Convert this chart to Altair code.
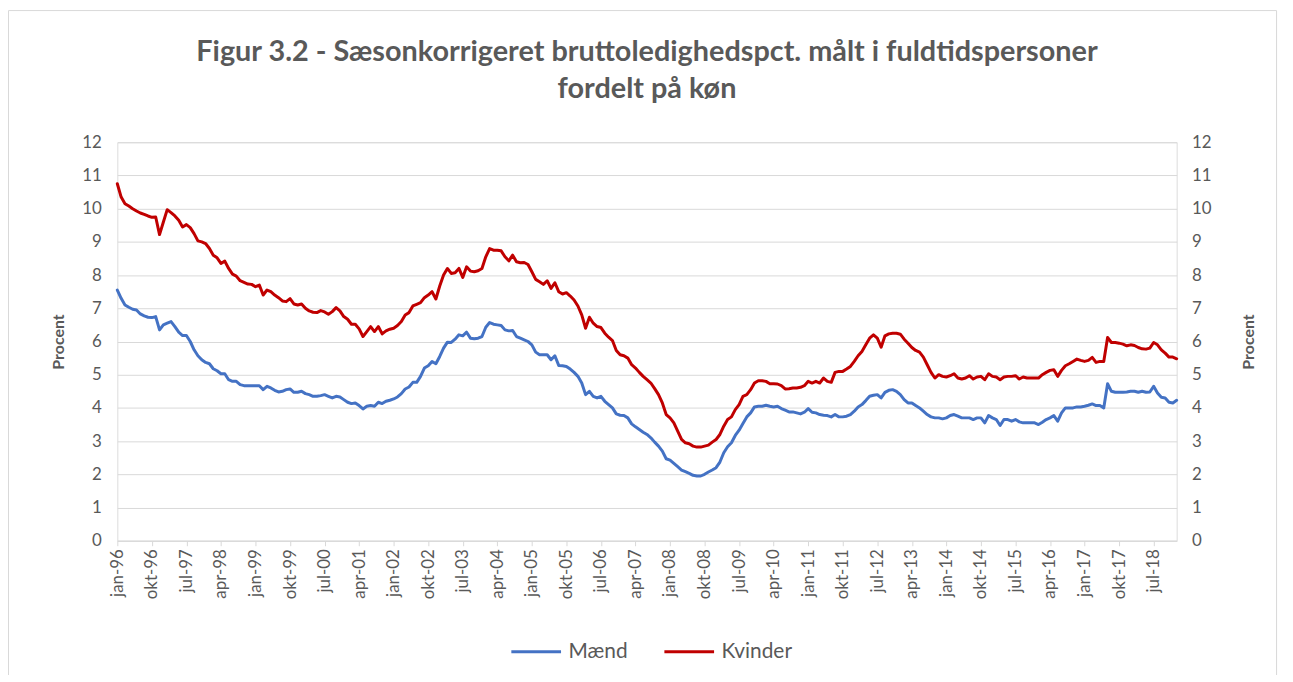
import altair as alt
import pandas as pd

MONTHS = ["jan", "feb", "mar", "apr", "maj", "jun", "jul", "aug", "sep", "okt", "nov", "dec"]
YEARS = list(range(1996, 2020))
PERIODS = [f"{m}-{str(y)[2:]}" for y in YEARS for m in MONTHS][:277]

TICK_LABELS = ["jan-96", "okt-96", "jul-97", "apr-98", "jan-99", "okt-99", "jul-00", "apr-01",
               "jan-02", "okt-02", "jul-03", "apr-04", "jan-05", "okt-05", "jul-06", "apr-07",
               "jan-08", "okt-08", "jul-09", "apr-10", "jan-11", "okt-11", "jul-12", "apr-13",
               "jan-14", "okt-14", "jul-15", "apr-16", "jan-17", "okt-17", "jul-18"]

MAEND = [
    7.55, 7.30, 7.10, 7.03, 6.97, 6.95, 6.83, 6.77, 6.73, 6.72, 6.75, 6.35,   # 1996
    6.50, 6.55, 6.60, 6.45, 6.28, 6.18, 6.18, 6.00, 5.75, 5.57, 5.45, 5.37,   # 1997
    5.33, 5.18, 5.12, 5.03, 5.03, 4.85, 4.80, 4.80, 4.70, 4.67, 4.67, 4.67,   # 1998
    4.67, 4.67, 4.55, 4.65, 4.60, 4.53, 4.48, 4.50, 4.55, 4.57, 4.47, 4.47,   # 1999
    4.50, 4.43, 4.40, 4.35, 4.35, 4.37, 4.40, 4.35, 4.30, 4.35, 4.33, 4.25,   # 2000
    4.17, 4.13, 4.15, 4.07, 3.97, 4.05, 4.07, 4.05, 4.17, 4.13, 4.20, 4.23,   # 2001
    4.27, 4.33, 4.43, 4.57, 4.63, 4.77, 4.77, 4.95, 5.20, 5.27, 5.40, 5.33,   # 2002
    5.55, 5.80, 5.98, 5.97, 6.07, 6.20, 6.17, 6.28, 6.10, 6.08, 6.10, 6.15,   # 2003
    6.43, 6.57, 6.52, 6.50, 6.48, 6.35, 6.32, 6.33, 6.15, 6.10, 6.05, 6.00,   # 2004
    5.90, 5.68, 5.60, 5.60, 5.60, 5.45, 5.57, 5.28, 5.27, 5.25, 5.17, 5.07,   # 2005
    4.95, 4.75, 4.40, 4.50, 4.35, 4.30, 4.35, 4.20, 4.10, 4.00, 3.82, 3.78,   # 2006
    3.77, 3.70, 3.52, 3.43, 3.35, 3.27, 3.20, 3.10, 2.97, 2.85, 2.70, 2.47,   # 2007
    2.43, 2.33, 2.23, 2.13, 2.08, 2.03, 1.97, 1.95, 1.95, 2.00, 2.07, 2.13,   # 2008
    2.20, 2.37, 2.65, 2.83, 2.95, 3.17, 3.33, 3.53, 3.73, 3.85, 4.03, 4.05,   # 2009
    4.05, 4.08, 4.05, 4.03, 4.05, 3.98, 3.93, 3.88, 3.88, 3.85, 3.82, 3.87,   # 2010
    3.98, 3.87, 3.85, 3.80, 3.78, 3.77, 3.73, 3.80, 3.73, 3.73, 3.75, 3.80,   # 2011
    3.90, 4.03, 4.10, 4.22, 4.35, 4.38, 4.40, 4.30, 4.47, 4.53, 4.55, 4.50,   # 2012
    4.40, 4.25, 4.15, 4.15, 4.07, 4.00, 3.90, 3.80, 3.73, 3.70, 3.70, 3.67,   # 2013
    3.70, 3.77, 3.80, 3.75, 3.70, 3.70, 3.70, 3.65, 3.70, 3.70, 3.55, 3.77,   # 2014
    3.70, 3.65, 3.47, 3.65, 3.65, 3.60, 3.65, 3.58, 3.55, 3.55, 3.55, 3.55,   # 2015
    3.50, 3.57, 3.65, 3.70, 3.77, 3.60, 3.85, 4.00, 4.00, 4.00, 4.03, 4.03,   # 2016
    4.05, 4.08, 4.12, 4.07, 4.07, 4.00, 4.73, 4.50, 4.47, 4.47, 4.47, 4.48,   # 2017
    4.50, 4.50, 4.47, 4.50, 4.47, 4.48, 4.65, 4.45, 4.32, 4.30, 4.17, 4.15,   # 2018
    4.23,                                                                      # 2019
]

KVINDER = [
    10.75, 10.35, 10.15, 10.08, 10.00, 9.93, 9.87, 9.83, 9.78, 9.74, 9.75, 9.22,  # 1996
    9.60, 9.97, 9.88, 9.78, 9.65, 9.45, 9.52, 9.43, 9.25, 9.03, 9.00, 8.95,       # 1997
    8.80, 8.60, 8.52, 8.35, 8.42, 8.20, 8.03, 7.97, 7.83, 7.78, 7.73, 7.72,       # 1998
    7.65, 7.70, 7.40, 7.55, 7.50, 7.40, 7.32, 7.22, 7.20, 7.29, 7.13, 7.10,       # 1999
    7.13, 7.00, 6.92, 6.88, 6.87, 6.93, 6.89, 6.82, 6.90, 7.02, 6.92, 6.75,       # 2000
    6.67, 6.52, 6.52, 6.38, 6.15, 6.30, 6.45, 6.30, 6.45, 6.23, 6.32, 6.37,       # 2001
    6.40, 6.48, 6.60, 6.80, 6.87, 7.07, 7.12, 7.17, 7.32, 7.40, 7.50, 7.28,       # 2002
    7.67, 8.00, 8.20, 8.05, 8.07, 8.20, 7.93, 8.25, 8.12, 8.10, 8.13, 8.20,       # 2003
    8.55, 8.80, 8.75, 8.75, 8.73, 8.55, 8.43, 8.60, 8.40, 8.37, 8.38, 8.32,       # 2004
    8.10, 7.87, 7.80, 7.72, 7.83, 7.60, 7.77, 7.50, 7.43, 7.47, 7.37, 7.25,       # 2005
    7.07, 6.80, 6.40, 6.73, 6.55, 6.45, 6.42, 6.25, 6.13, 6.03, 5.73, 5.60,       # 2006
    5.57, 5.50, 5.30, 5.20, 5.07, 4.95, 4.85, 4.75, 4.58, 4.40, 4.15, 3.80,       # 2007
    3.70, 3.55, 3.30, 3.05, 2.95, 2.92, 2.85, 2.82, 2.82, 2.85, 2.88, 2.97,       # 2008
    3.05, 3.20, 3.45, 3.65, 3.73, 3.95, 4.10, 4.35, 4.40, 4.55, 4.75, 4.82,       # 2009
    4.82, 4.80, 4.73, 4.73, 4.72, 4.67, 4.57, 4.58, 4.60, 4.60, 4.62, 4.67,       # 2010
    4.80, 4.75, 4.80, 4.75, 4.90, 4.80, 4.77, 5.07, 5.10, 5.10, 5.17, 5.25,       # 2011
    5.40, 5.57, 5.70, 5.90, 6.10, 6.20, 6.10, 5.83, 6.17, 6.23, 6.25, 6.25,       # 2012
    6.22, 6.07, 5.95, 5.82, 5.73, 5.68, 5.53, 5.30, 5.07, 4.90, 5.00, 4.95,       # 2013
    4.93, 4.97, 5.03, 4.90, 4.87, 4.90, 4.97, 4.87, 4.93, 4.95, 4.85, 5.03,       # 2014
    4.95, 4.93, 4.85, 4.93, 4.95, 4.95, 4.97, 4.87, 4.93, 4.90, 4.90, 4.90,       # 2015
    4.90, 5.00, 5.07, 5.13, 5.15, 4.95, 5.13, 5.27, 5.33, 5.40, 5.47, 5.43,       # 2016
    5.40, 5.43, 5.52, 5.37, 5.40, 5.40, 6.12, 5.97, 5.97, 5.95, 5.92, 5.87,       # 2017
    5.90, 5.88, 5.82, 5.78, 5.77, 5.80, 5.97, 5.90, 5.75, 5.65, 5.53, 5.53,       # 2018
    5.48,                                                                          # 2019
]

SERIES = ["Mænd", "Kvinder"]
COLORS = ["#4472C4", "#C00000"]
TITLE = ["Figur 3.2 - Sæsonkorrigeret bruttoledighedspct. målt i fuldtidspersoner",
         "fordelt på køn"]

rows = []
for name, vals in zip(SERIES, [MAEND, KVINDER]):
    for p, v in zip(PERIODS, vals):
        rows.append({"periode": p, "serie": name, "procent": v})
df = pd.DataFrame(rows)

FONT = "Lato"
GREY = "#595959"
GRID = "#d9d9d9"

x_enc = alt.X(
    "periode:O", sort=PERIODS,
    scale=alt.Scale(type="point", padding=0),
    axis=alt.Axis(values=TICK_LABELS, labelAngle=-90, labelFontSize=17, labelColor=GREY,
                  labelFont=FONT, tickColor=GRID, domainColor=GRID, tickSize=5,
                  labelPadding=3, title=None, grid=False),
)

y_scale = alt.Scale(domain=[0, 12], nice=False)

lines = alt.Chart(df).mark_line(strokeWidth=3, strokeJoin="round", strokeCap="round").encode(
    x=x_enc,
    y=alt.Y("procent:Q", scale=y_scale,
            axis=alt.Axis(orient="left", values=list(range(13)), grid=True, gridColor=GRID,
                          gridWidth=1, domain=False, ticks=False, labelFontSize=17,
                          labelColor=GREY, labelFont=FONT, labelPadding=16,
                          title="Procent", titleFontSize=16, titleFont=FONT,
                          titleFontWeight="bold", titleColor=GREY, titlePadding=15)),
    color=alt.Color("serie:N", scale=alt.Scale(domain=SERIES, range=COLORS),
                    legend=alt.Legend(orient="none", legendX=395, legendY=486,
                                      direction="horizontal", title=None,
                                      symbolType="stroke", symbolSize=2500,
                                      symbolStrokeWidth=3, labelFontSize=21,
                                      labelColor=GREY, labelFont=FONT,
                                      columnPadding=30, labelOffset=6)),
)

right = alt.Chart(df).mark_line(strokeOpacity=0).encode(
    x=x_enc,
    y=alt.Y("procent:Q", scale=y_scale,
            axis=alt.Axis(orient="right", values=list(range(13)), grid=False,
                          domain=False, ticks=False, labelFontSize=17,
                          labelColor=GREY, labelFont=FONT, labelPadding=15,
                          title="Procent", titleFontSize=16, titleFont=FONT,
                          titleFontWeight="bold", titleColor=GREY, titlePadding=46,
                          titleAngle=-90)),
    detail="serie:N",
)

border = alt.Chart(pd.DataFrame({"k": [0]})).mark_rect(
    filled=False, stroke=GRID, strokeWidth=1
).encode(
    x=alt.value(-109.5), x2=alt.value(1166.5), y=alt.value(-132.5), y2=alt.value(539.5)
)

chart = alt.layer(border, lines, right).resolve_scale(y="shared").resolve_axis(
    y="independent"
).properties(
    width=1066, height=401,
    autosize=alt.AutoSizeParams(type="none"),
    padding={"left": 110, "top": 133, "right": 109, "bottom": 133},
    title=alt.TitleParams(TITLE, fontSize=29, font=FONT, fontWeight="bold", color=GREY,
                          anchor="middle", offset=-94, lineHeight=37),
).configure_view(stroke=None).configure(background="white")

chart.save("out.html", embed_options={"renderer": "svg", "actions": False})
